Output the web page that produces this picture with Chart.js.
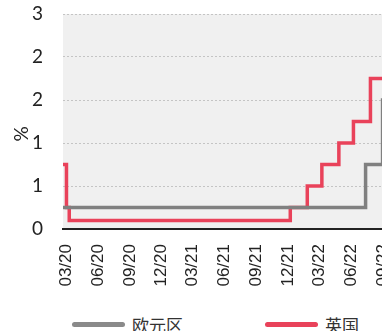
<!DOCTYPE html>
<html>
<head>
<meta charset="utf-8">
<script src="https://cdn.jsdelivr.net/npm/chart.js@4/dist/chart.umd.min.js"></script>
<style>
	html, body { margin: 0; padding: 0; overflow: hidden; background: #fff; }
	#wrap { position: absolute; left: 0; top: 0; width: 410px; height: 300px; }
	.legend { position: absolute; top: 312px; height: 24px; display: flex; align-items: center;
		font: 17px "Noto Sans CJK SC", sans-serif; color: #333; }
	.legend i { display: inline-block; width: 53px; height: 5px; border-radius: 3px; margin-right: 7px; }
</style>
</head>
<body>
<div id="wrap"><canvas id="chart"></canvas></div>
<div class="legend" style="left:72px"><i style="background:#8a8a8a"></i>欧元区</div>
<div class="legend" style="left:265px"><i style="background:#e9425a"></i>英国</div>
<script>
'use strict';

// policy rate changes (date of change, new rate in %)
const euroDates = ['2020-03-01', '2022-07-21', '2022-09-08', '2022-11-26'];
const euroRates = [0.25, 0.75, 1.5, 1.5];

const ukDates = ['2020-03-01', '2020-03-11', '2020-03-19', '2021-12-16', '2022-02-03',
	'2022-03-17', '2022-05-05', '2022-06-16', '2022-08-04', '2022-09-22', '2022-11-26'];
const ukRates = [0.75, 0.25, 0.1, 0.25, 0.5, 0.75, 1.0, 1.25, 1.75, 2.25, 2.25];

const tickDates = ['2020-03-01', '2020-06-01', '2020-09-01', '2020-12-01', '2021-03-01', '2021-06-01',
	'2021-09-01', '2021-12-01', '2022-03-01', '2022-06-01', '2022-09-01'];
const tickLabels = ['03/20', '06/20', '09/20', '12/20', '03/21', '06/21',
	'09/21', '12/21', '03/22', '06/22', '09/22'];

const startDate = '2020-03-01';
const endDate = '2022-11-26';

// days since startDate, used as the x value on a linear scale
const day = (s) => (Date.parse(s) - Date.parse(startDate)) / 864e5;
const series = (dates, rates) => dates.map((d, i) => ({x: day(d), y: rates[i]}));

const tickDays = tickDates.map(day);

const noPad = (scale) => {
	scale.paddingTop = 0;
	scale.paddingBottom = 0;
	scale.paddingLeft = 0;
	scale.paddingRight = 0;
};

const plotBg = {
	id: 'plotBg',
	beforeDraw(chart) {
		const {ctx, chartArea: a} = chart;
		ctx.save();
		ctx.fillStyle = '#f0f0f0';
		ctx.fillRect(a.left, a.top, a.right - a.left, a.bottom - a.top);
		ctx.restore();
	},
	afterDraw(chart) {
		const {ctx} = chart;
		ctx.save();
		ctx.translate(22, 134);
		ctx.rotate(-Math.PI / 2);
		ctx.font = '19px Lato, sans-serif';
		ctx.fillStyle = '#222';
		ctx.textAlign = 'center';
		ctx.textBaseline = 'middle';
		ctx.fillText('%', 0, 0);
		ctx.restore();
	}
};

new Chart(document.getElementById('chart'), {
	type: 'line',
	data: {
		datasets: [{
			label: '欧元区',
			data: series(euroDates, euroRates),
			borderColor: '#808080',
			borderWidth: 3.5,
			stepped: true,
			pointRadius: 0,
			fill: false
		}, {
			label: '英国',
			data: series(ukDates, ukRates),
			borderColor: '#e9425a',
			borderWidth: 3.5,
			stepped: true,
			pointRadius: 0,
			fill: false
		}]
	},
	options: {
		responsive: true,
		maintainAspectRatio: false,
		animation: false,
		layout: {padding: {top: 14, left: 0, right: 0, bottom: 0}},
		plugins: {legend: {display: false}, tooltip: {enabled: false}},
		scales: {
			x: {
				type: 'linear',
				min: 0,
				max: day(endDate),
				grid: {display: false, drawTicks: false},
				border: {display: true, color: '#222', width: 2},
				afterBuildTicks: (scale) => { scale.ticks = tickDays.map((v) => ({value: v})); },
				afterFit: (scale) => { scale.height = 71; noPad(scale); },
				ticks: {
					autoSkip: false,
					minRotation: 90,
					maxRotation: 90,
					padding: 15,
					labelOffset: 3,
					color: '#222',
					font: {family: '"Liberation Sans", sans-serif', size: 17},
					callback: (v) => tickLabels[tickDays.indexOf(v)] || ''
				}
			},
			y: {
				min: 0,
				max: 2.5,
				grid: {color: '#c4c4c4', lineWidth: 1, drawTicks: false},
				border: {display: false, dash: [2, 2]},
				afterFit: (scale) => { scale.width = 63; noPad(scale); },
				ticks: {
					stepSize: 0.5,
					padding: 20,
					color: '#222',
					font: {family: 'Lato, sans-serif', size: 19},
					callback: (v) => Math.round(v).toString()
				}
			}
		}
	},
	plugins: [plotBg]
});
</script>
</body>
</html>
